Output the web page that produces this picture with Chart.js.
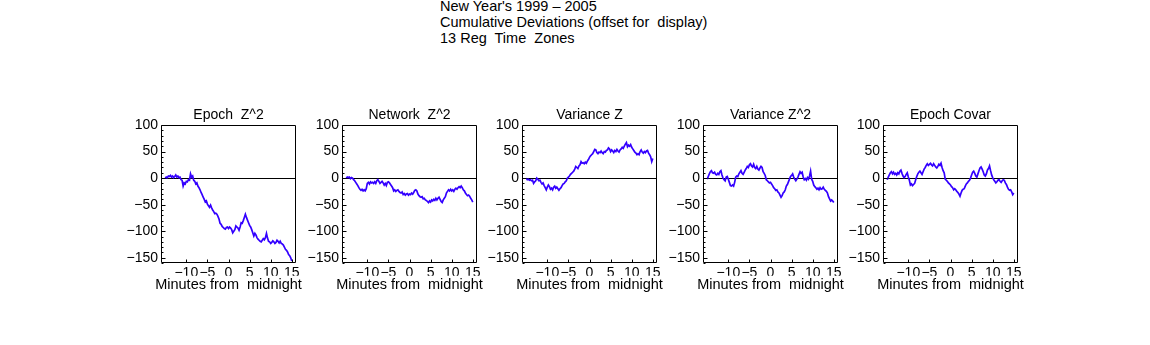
<!DOCTYPE html>
<html>
<head>
<meta charset="utf-8">
<script src="https://cdn.jsdelivr.net/npm/chart.js@4.4.1/dist/chart.umd.min.js"></script>
<style>
  html, body { margin: 0; padding: 0; background: #fff; width: 1150px; height: 345px; overflow: hidden; }
  #header { position: absolute; left: 440px; top: -2px; font: 14.5px "Liberation Sans", Arial, sans-serif; line-height: 16px; color: #000; white-space: pre; }
  canvas { position: absolute; }
</style>
</head>
<body>
<div id="header"><div>New Year's 1999 – 2005</div><div>Cumulative Deviations (offset for  display)</div><div>13 Reg  Time  Zones</div></div>
<script>
// Minutes relative to midnight (sample grid shared by all five traces)
const minutes = [
  -15,-14.75,-14.5,-14.25,-14,-13.75,-13.5,-13.25,-13,-12.75,-12.5,-12.25,-12,-11.75,-11.5,-11.25,
  -11,-10.75,-10.5,-10.25,-10,-9.75,-9.5,-9.25,-9,-8.75,-8.5,-8.25,-8,-7.75,-7.5,-7.25,
  -7,-6.75,-6.5,-6.25,-6,-5.75,-5.5,-5.25,-5,-4.75,-4.5,-4.25,-4,-3.75,-3.5,-3.25,
  -3,-2.75,-2.5,-2.25,-2,-1.75,-1.5,-1.25,-1,-0.75,-0.5,-0.25,0,0.25,0.5,0.75,
  1,1.25,1.5,1.75,2,2.25,2.5,2.75,3,3.25,3.5,3.75,4,4.25,4.5,4.75,
  5,5.25,5.5,5.75,6,6.25,6.5,6.75,7,7.25,7.5,7.75,8,8.25,8.5,8.75,
  9,9.25,9.5,9.75,10,10.25,10.5,10.75,11,11.25,11.5,11.75,12,12.25,12.5,12.75,
  13,13.25,13.5,13.75,14,14.25,14.5,14.75,15
];

// Cumulative deviation traces
const epochZ2 = [
  0,2,1,4, 3,5,2,4, 1,3,6,2, 4,1,2,-3,
  -4,-15,-9,-11, -6,-7,-3,-4, 8,2,4,-4, -6,-11,-9,-15,
  -18,-22,-27,-31, -36,-40,-45,-43, -49,-52,-55,-51, -56,-60,-63,-67,
  -66,-68,-72,-77, -85,-87,-91,-93, -95,-96,-93,-92, -95,-92,-94,-97,
  -103,-100,-97,-90, -92,-94,-98,-92, -84,-85,-80,-74, -68,-74,-79,-84,
  -89,-92,-97,-103, -109,-104,-107,-112, -115,-117,-119,-120, -117,-114,-116,-112,
  -104,-113,-119,-120, -123,-121,-118,-120, -123,-121,-117,-119, -122,-119,-123,-124,
  -126,-130,-134,-136, -139,-144,-146,-150, -156
];
const networkZ2 = [
  0,2,1,2, -1,1,0,-3, -5,-8,-11,-14, -18,-21,-23,-21,
  -24,-22,-24,-20, -10,-8,-11,-7, -9,-8,-10,-7, -10,-5,-3,-6,
  -10,-8,-6,-9, -13,-10,-14,-8, -7,-9,-12,-15, -18,-24,-22,-25,
  -23,-22,-25,-27, -28,-26,-31,-29, -32,-30,-29,-32, -30,-31,-28,-30,
  -27,-23,-22,-24, -30,-33,-35,-36, -35,-39,-38,-41, -42,-44,-46,-43,
  -45,-41,-43,-40, -42,-38,-41,-38, -36,-40,-44,-46, -41,-38,-35,-28,
  -25,-22,-24,-21, -24,-22,-25,-21, -19,-21,-18,-16, -18,-15,-18,-22,
  -24,-28,-31,-33, -32,-34,-38,-41, -45
];
const varianceZ = [
  0,-3,-2,-4, -3,-5,-4,-10, -7,-5,0,-2, -5,-4,-8,-11,
  -9,-14,-18,-22, -17,-13,-16,-21, -19,-22,-17,-15, -19,-17,-20,-23,
  -20,-18,-14,-11, -10,-7,-5,0, 2,4,7,9, 11,13,17,22,
  20,18,23,25, 31,28,29,27, 30,28,32,35, 39,42,44,46,
  50,54,53,48, 46,49,48,51, 48,46,50,49, 52,53,57,55,
  50,53,51,48, 52,50,54,51, 49,53,55,58, 56,60,64,67,
  59,62,60,63, 58,55,52,49, 47,44,46,44, 50,53,49,47,
  50,48,51,52, 47,44,40,31, 37
];
const varianceZ2 = [
  -2,3,8,12, 14,10,9,11, 7,6,9,7, 12,14,6,0,
  -3,-5,2,3, -2,-8,-14,-15, -13,-15,-8,2, 4,3,8,11,
  14,9,7,11, 15,18,22,20, 25,27,23,21, 26,20,18,22,
  17,15,19,22, 20,12,9,5, -3,-5,-7,-9, -8,-11,-14,-18,
  -20,-23,-22,-26, -28,-32,-36,-33, -28,-26,-22,-15, -12,-7,-2,3,
  5,8,2,-2, -5,-2,2,7, 12,9,11,2, -3,-1,-4,1,
  -2,4,13,-2, -6,-13,-16,-18, -21,-19,-22,-18, -21,-20,-17,-21,
  -23,-25,-28,-35, -39,-43,-41,-43, -46
];
const epochCovar = [
  -3,2,6,10, 12,8,11,7, 9,6,10,8, 13,15,9,4,
  1,3,7,10, 2,-4,-13,-11, -14,-12,-10,-3, 3,8,11,13,
  10,7,12,17, 20,24,27,24, 26,28,25,23, 27,24,21,19,
  22,26,24,28, 20,14,10,-2, -4,-6,-9,-11, -13,-16,-18,-22,
  -20,-22,-25,-27, -30,-34,-28,-23, -21,-20,-15,-11, -9,-6,-4,0,
  6,11,13,9, 4,2,8,14, 19,21,17,12, 6,4,8,15,
  18,23,14,6, 1,-3,-6,-9, -7,-4,-3,-6, -8,-5,-3,-4,
  -9,-12,-17,-21, -23,-22,-26,-31, -28
];

const panelTitles = ["Epoch  Z^2", "Network  Z^2", "Variance Z", "Variance Z^2", "Epoch Covar"];
const panelSeries = [epochZ2, networkZ2, varianceZ, varianceZ2, epochCovar];
const xTickValues = [-10, -5, 0, 5, 10, 15];
const yTickValues = [-150, -100, -50, 0, 50, 100];
const xAxisTitle = "Minutes from  midnight";

// Layout: each canvas is symmetric about its plot box (value axis on the
// left, an empty spacer axis of equal width on the right) so that the
// full-width title and axis caption centre over the plot
const FONT = '"Liberation Sans", Arial, sans-serif';
const LINE_COLOR = '#3300ff';
const PLOT_LEFTS = [161, 342, 522, 703, 883];
const SIDE = 50, PLOT_W = 135;
const CANVAS_TOP = 100, CANVAS_H = 195, X_TICK_H = 12.7;

const minusFmt = v => (v < 0 ? '\u2212' + Math.abs(v) : String(v));

// Frame around the plot area plus inward tick marks
const framePlugin = {
  id: 'frame',
  afterDraw(chart) {
    const { ctx, chartArea: a, scales: { x, y } } = chart;
    const l = Math.round(a.left) + 0.5, t = Math.round(a.top) + 0.5;
    const r = Math.round(a.right) - 0.5, b = Math.round(a.bottom) - 0.5;
    ctx.save();
    ctx.strokeStyle = '#000';
    ctx.lineWidth = 1;
    ctx.beginPath();
    ctx.rect(l, t, r - l, b - t);
    for (let v = y.min; v <= y.max; v += 10) {
      const py = Math.round(y.getPixelForValue(v)) + 0.5;
      const len = v % 50 === 0 ? 4 : 2;
      ctx.moveTo(l, py); ctx.lineTo(l + len, py);
    }
    xTickValues.forEach(v => {
      const px = Math.round(x.getPixelForValue(v)) + 0.5;
      ctx.moveTo(px, b); ctx.lineTo(px, b - 3);
    });
    ctx.stroke();
    ctx.restore();
  }
};

function makePanel(i) {
  const canvas = document.createElement('canvas');
  canvas.width = SIDE + PLOT_W + SIDE;
  canvas.height = CANVAS_H;
  canvas.style.left = (PLOT_LEFTS[i] - SIDE) + 'px';
  canvas.style.top = CANVAS_TOP + 'px';
  document.body.appendChild(canvas);
  const values = panelSeries[i];
  new Chart(canvas, {
    type: 'line',
    data: {
      datasets: [{
        data: minutes.map((m, k) => ({ x: m, y: values[k] })),
        borderColor: LINE_COLOR,
        borderWidth: 1.7,
        pointRadius: 0,
        tension: 0,
        fill: false
      }]
    },
    options: {
      responsive: false,
      animation: false,
      devicePixelRatio: 1,
      layout: { padding: 0 },
      plugins: {
        legend: { display: false },
        tooltip: { enabled: false },
        title: {
          display: true, fullSize: true, align: 'center',
          text: panelTitles[i], color: '#000',
          font: { family: FONT, size: 14, weight: 'normal' },
          padding: { top: 7, bottom: 1.2 }
        },
        subtitle: {
          display: true, position: 'bottom', fullSize: true, align: 'center',
          text: xAxisTitle, color: '#000',
          font: { family: FONT, size: 14.5, weight: 'normal' },
          padding: { top: 0, bottom: 1.8 }
        }
      },
      scales: {
        x: {
          type: 'linear', min: -16, max: 16,
          afterBuildTicks: s => { s.ticks = xTickValues.map(v => ({ value: v })); },
          afterFit: s => { s.height = X_TICK_H; s.paddingLeft = 0; s.paddingRight = 0; },
          grid: { display: false, drawTicks: false },
          border: { display: false },
          ticks: {
            padding: 2, color: '#000', autoSkip: false, maxRotation: 0,
            font: { family: FONT, size: 14 },
            callback: v => minusFmt(v)
          }
        },
        y: {
          type: 'linear', position: 'left', min: -160, max: 100,
          afterBuildTicks: s => { s.ticks = yTickValues.map(v => ({ value: v })); },
          afterFit: s => { s.width = SIDE; s.paddingTop = 0; s.paddingBottom = 0; },
          grid: {
            drawTicks: false,
            color: c => (c.tick && c.tick.value === 0 ? '#000' : 'rgba(0,0,0,0)'),
            lineWidth: 1
          },
          border: { display: false },
          ticks: {
            padding: 3, color: '#000',
            font: { family: FONT, size: 14 },
            callback: v => minusFmt(v)
          }
        },
        spacer: {
          type: 'linear', position: 'right', min: -160, max: 100,
          afterFit: s => { s.width = SIDE; s.paddingTop = 0; s.paddingBottom = 0; },
          grid: { display: false, drawTicks: false },
          border: { display: false },
          ticks: { display: false }
        }
      }
    },
    plugins: [framePlugin]
  });
}

panelTitles.forEach((_, i) => makePanel(i));
</script>
</body>
</html>
